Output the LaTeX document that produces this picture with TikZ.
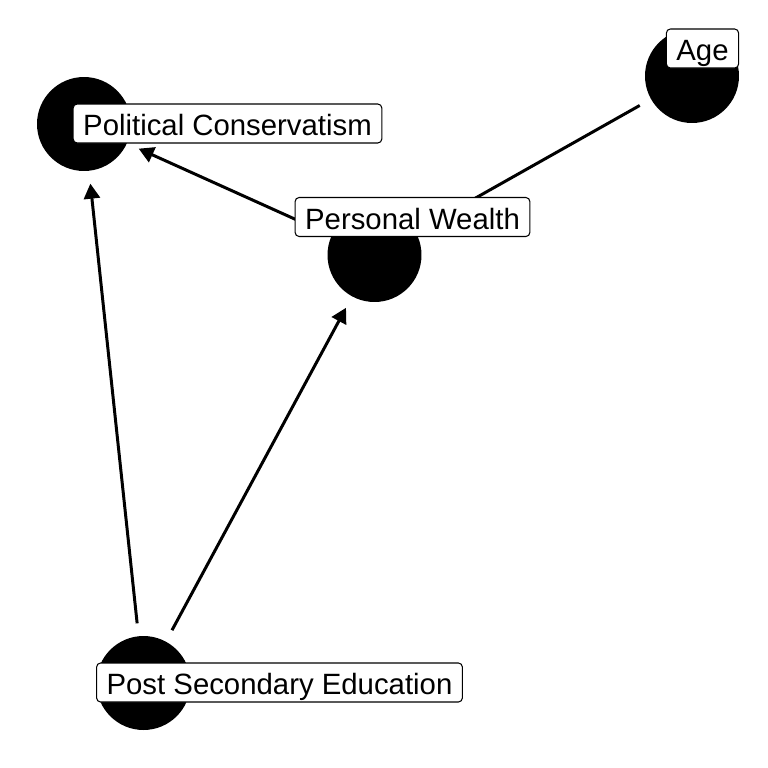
\documentclass[tikz,border=0pt]{standalone}
\usepackage{fontspec}
\setmainfont{Liberation Sans}
\usepackage{tikz}
\usetikzlibrary{arrows.meta,shapes}

\begin{document}
\begin{tikzpicture}[x=0.02cm, y=-0.02cm, -{Triangle[length=0.3cm,width=0.32cm]}, line width=1.7pt,
  var node/.style={circle, fill=black, draw=none, minimum size=1.88cm, outer sep=0.26cm, inner sep=0pt},
  tag/.style={draw, fill=white, rounded corners=0.08cm, line width=0.6pt, inner xsep=0.2cm, inner ysep=0pt, minimum height=0.78cm, text height=14.2pt, text depth=0pt, font=\fontsize{16.7}{20}\selectfont}]
\useasboundingbox (0,0) rectangle (768,768);
\node[var node] (pc) at (84,124) {};
\node[var node] (pw) at (374.5,255) {};
\node[var node] (age) at (692,76) {};
\node[var node] (pse) at (143.5,683) {};
\path
(age) edge (pw)
(pw) edge (pc)
(pse) edge (pc)
(pse) edge (pw);
\node[tag] (pcl) at (227.5,123.5) {Political Conservatism};
\node[tag] (pwl) at (412.5,217) {Personal Wealth};
\node[tag] (agel) at (702.5,48.5) {Age};
\node[tag] (psel) at (279.5,682.5) {Post Secondary Education};
\end{tikzpicture}
\end{document}
